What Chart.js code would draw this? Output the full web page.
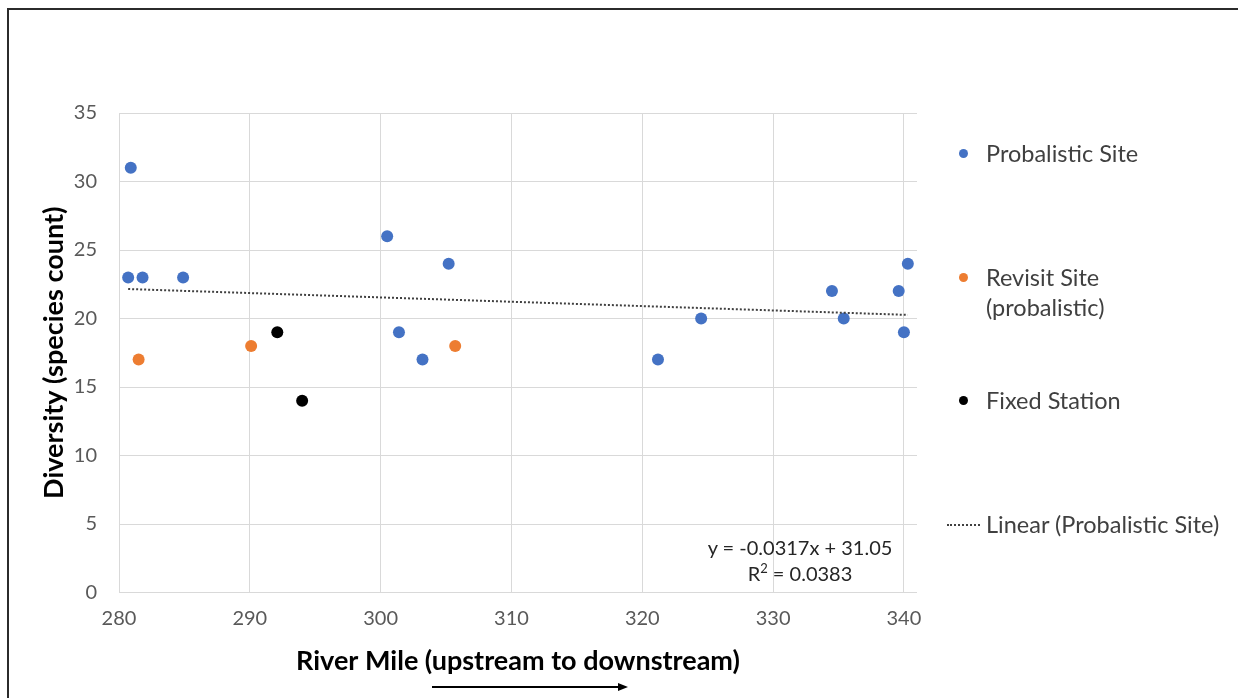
<!DOCTYPE html>
<html>
<head>
<meta charset="utf-8">
<title>Diversity by River Mile</title>
<script src="https://cdn.jsdelivr.net/npm/chart.js@4.4.1/dist/chart.umd.min.js"></script>
<style>
    html, body { margin: 0; padding: 0; background: #fff; }
    body { width: 1238px; height: 698px; position: relative; overflow: hidden; font-family: Lato, "Open Sans", sans-serif; }
    #frame { position: absolute; left: 7px; top: 8px; width: 1250px; height: 720px; border: 2px solid #2b2b2b; box-sizing: border-box; }
    #chartBox { position: absolute; left: 0; top: 0; width: 1238px; height: 698px; }
    .legend-item { position: absolute; left: 958px; color: #404040; font-size: 23.5px; line-height: 30px; white-space: pre-line; }
    .legend-item .mark { position: absolute; left: 1px; top: 11px; width: 9px; height: 9px; border-radius: 50%; }
    .legend-item .dash { position: absolute; left: -11px; top: 15px; width: 33px; border-top: 2px dotted #404040; }
    .legend-item .txt { margin-left: 28px; display: block; }
    #equation { position: absolute; left: 680px; top: 534px; width: 240px; text-align: center; color: #262626; font-size: 20px; line-height: 26px; }
</style>
</head>
<body>
<div id="frame"></div>
<div id="chartBox"><canvas id="diversityChart" width="1238" height="698"></canvas></div>
<div id="legend"></div>
<div id="equation"></div>
<script>
// Probalistic sites (river mile, species count)
const probX = [280.7, 280.9, 281.8, 284.9, 300.5, 301.4, 303.2, 305.2, 321.2, 324.5, 334.5, 335.4, 339.6, 340.0, 340.3];
const probY = [23, 31, 23, 23, 26, 19, 17, 24, 17, 20, 22, 20, 22, 19, 24];

// Revisit sites (probalistic)
const revisitX = [281.5, 290.1, 305.7];
const revisitY = [17, 18, 18];

// Fixed stations
const fixedX = [292.1, 294.0];
const fixedY = [19, 14];

// Linear trend shown on the chart
const trendSlope = -0.0317;
const trendIntercept = 31.05;
const trendR2 = 0.0383;

const xTicks = [280, 290, 300, 310, 320, 330, 340];
const yTicks = [0, 5, 10, 15, 20, 25, 30, 35];

const seriesLabels = ['Probalistic Site', 'Revisit Site\n(probalistic)', 'Fixed Station', 'Linear (Probalistic Site)'];
const seriesColors = ['#4472C4', '#ED7D31', '#000000', '#404040'];

function toPoints(xs, ys) {
    return xs.map((x, i) => ({ x: x, y: ys[i] }));
}

const trendStart = Math.min(...probX);
const trendEnd = Math.max(...probX);

// Arrow under the x axis title (upstream -> downstream)
const arrowPlugin = {
    id: 'riverArrow',
    afterDraw(chart) {
        const ctx = chart.ctx;
        const y = 687;
        const x1 = 432, x2 = 628;
        ctx.save();
        ctx.strokeStyle = '#000';
        ctx.fillStyle = '#000';
        ctx.lineWidth = 2;
        ctx.beginPath();
        ctx.moveTo(x1, y);
        ctx.lineTo(x2 - 8, y);
        ctx.stroke();
        ctx.beginPath();
        ctx.moveTo(x2, y);
        ctx.lineTo(x2 - 10, y - 4);
        ctx.lineTo(x2 - 10, y + 4);
        ctx.closePath();
        ctx.fill();
        ctx.restore();
    }
};

Chart.defaults.font.family = 'Lato, "Open Sans", sans-serif';

const ctx = document.getElementById('diversityChart').getContext('2d');
const diversityChart = new Chart(ctx, {
    type: 'scatter',
    data: {
        datasets: [
            {
                type: 'line',
                label: seriesLabels[3],
                data: [
                    { x: trendStart, y: trendSlope * trendStart + trendIntercept },
                    { x: trendEnd, y: trendSlope * trendEnd + trendIntercept }
                ],
                borderColor: seriesColors[3],
                borderWidth: 2,
                borderDash: [2, 2],
                pointRadius: 0,
                fill: false
            },
            {
                label: seriesLabels[0],
                data: toPoints(probX, probY),
                backgroundColor: seriesColors[0],
                borderColor: seriesColors[0],
                pointRadius: 6,
                pointBorderWidth: 0
            },
            {
                label: seriesLabels[1],
                data: toPoints(revisitX, revisitY),
                backgroundColor: seriesColors[1],
                borderColor: seriesColors[1],
                pointRadius: 6,
                pointBorderWidth: 0
            },
            {
                label: seriesLabels[2],
                data: toPoints(fixedX, fixedY),
                backgroundColor: seriesColors[2],
                borderColor: seriesColors[2],
                pointRadius: 6,
                pointBorderWidth: 0
            }
        ]
    },
    options: {
        responsive: false,
        animation: false,
        layout: {
            padding: { top: 113, right: 321, bottom: 0, left: 0 }
        },
        plugins: {
            legend: { display: false },
            tooltip: { enabled: false }
        },
        scales: {
            x: {
                type: 'linear',
                min: 280,
                max: 341,
                afterBuildTicks: function(scale) {
                    scale.ticks = xTicks.map(v => ({ value: v }));
                },
                afterFit: function(scale) {
                    scale.height = 105.5;
                },
                grid: { color: '#d9d9d9', drawTicks: false },
                border: { display: false },
                ticks: { color: '#595959', font: { size: 20 }, padding: 14 },
                title: {
                    display: true,
                    text: 'River Mile (upstream to downstream)',
                    color: '#000',
                    font: { size: 27, weight: 'bold' },
                    padding: { top: 0, bottom: 21 }
                }
            },
            y: {
                min: 0,
                max: 35,
                afterBuildTicks: function(scale) {
                    scale.ticks = yTicks.map(v => ({ value: v }));
                },
                afterFit: function(scale) {
                    scale.width = 119;
                },
                grid: { color: '#d9d9d9', drawTicks: false },
                border: { display: false },
                ticks: { color: '#595959', font: { size: 20 }, padding: 22 },
                title: {
                    display: true,
                    text: 'Diversity (species count)',
                    color: '#000',
                    font: { size: 27, weight: 'bold' },
                    padding: { top: 38, bottom: 0 }
                }
            }
        }
    },
    plugins: [arrowPlugin]
});

// Legend built from the datasets, spread out like the original
const legendOrder = [1, 2, 3, 0];
const legendEl = document.getElementById('legend');
legendOrder.forEach(function(dsIndex, i) {
    const ds = diversityChart.data.datasets[dsIndex];
    const item = document.createElement('div');
    item.className = 'legend-item';
    item.style.top = (138 + i * 123.7) + 'px';
    const mark = document.createElement('span');
    if (ds.type === 'line') {
        mark.className = 'dash';
        mark.style.borderTopColor = ds.borderColor;
    } else {
        mark.className = 'mark';
        mark.style.background = ds.backgroundColor;
    }
    const txt = document.createElement('span');
    txt.className = 'txt';
    txt.textContent = ds.label;
    item.appendChild(mark);
    item.appendChild(txt);
    legendEl.appendChild(item);
});

// Trendline equation
document.getElementById('equation').innerHTML =
    'y = ' + trendSlope + 'x + ' + trendIntercept.toFixed(2) + '<br>R<sup style="font-size:13px;line-height:0">2</sup> = ' + trendR2;
</script>
</body>
</html>
